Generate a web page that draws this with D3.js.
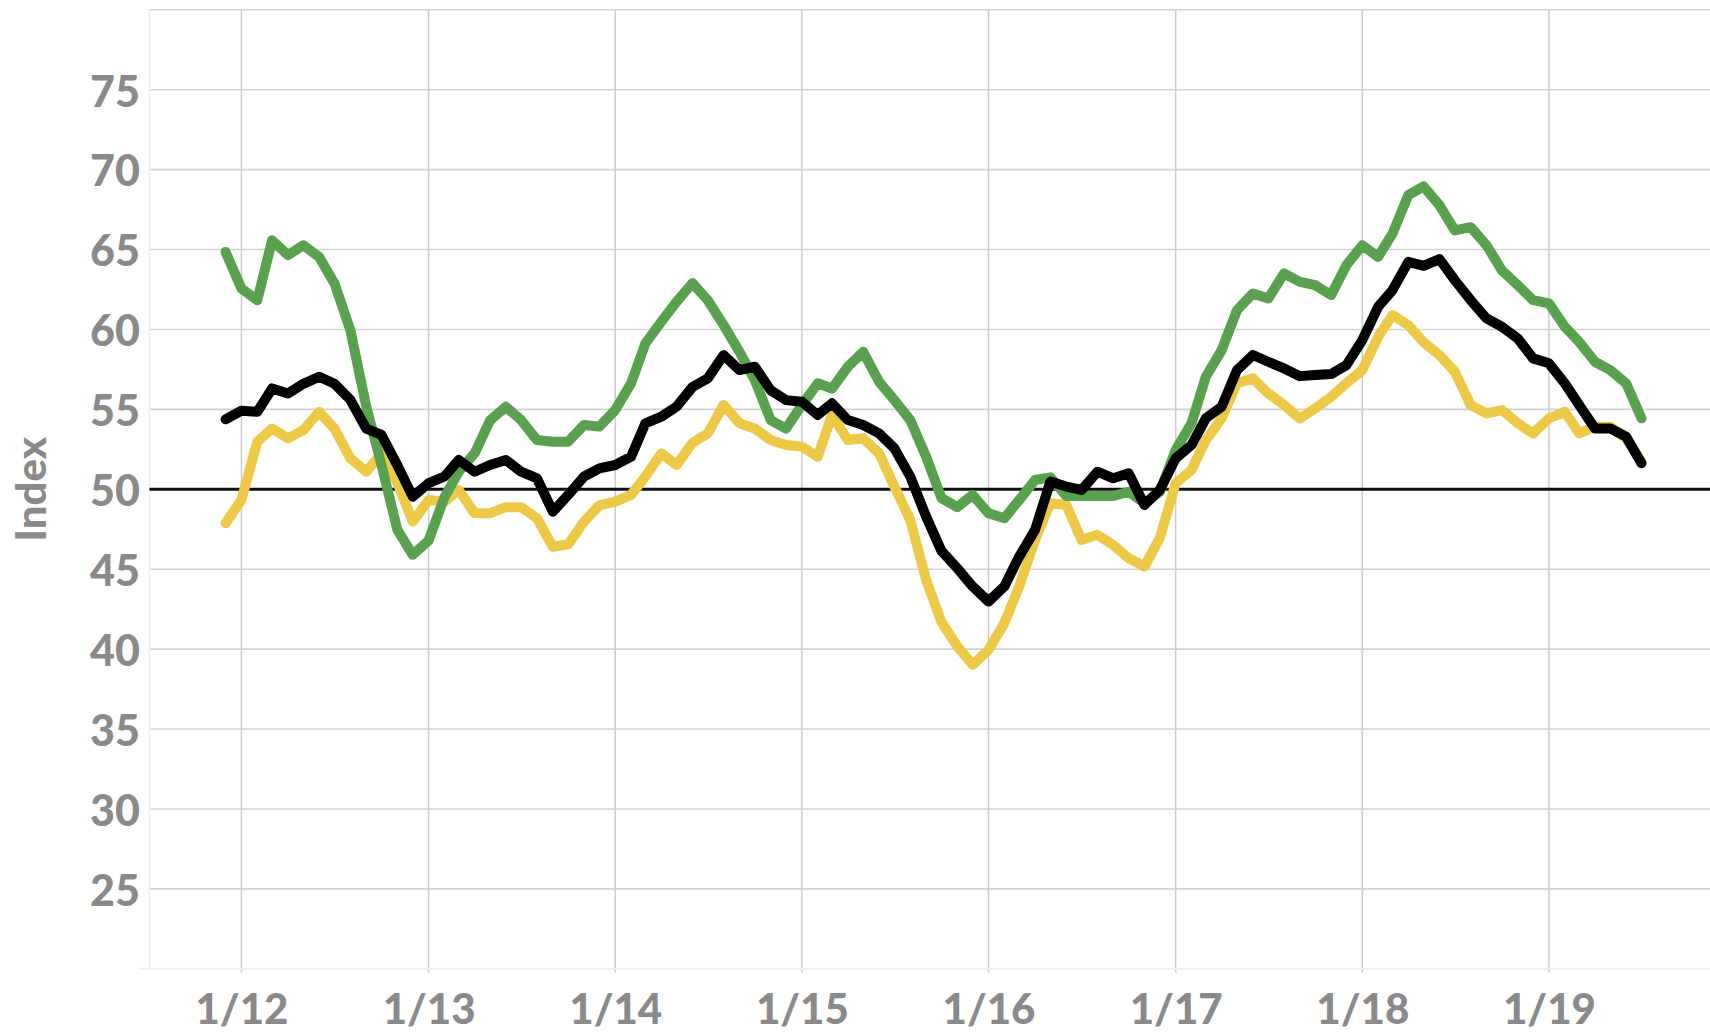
<!DOCTYPE html>
<html>
<head>
<meta charset="utf-8">
<script src="https://cdn.jsdelivr.net/npm/d3@7"></script>
<style>
  body { margin: 0; background: #fff; }
  svg { display: block; }
  text { font-family: Lato, "Open Sans", sans-serif; font-weight: 900; fill: #8a8a8a; }
</style>
</head>
<body>
<svg id="chart"></svg>
<script>
// monthly readings, Dec 2011 .. Jul 2019
const firstMonth = Date.UTC(2011, 11, 1);
const lastMonth = Date.UTC(2019, 6, 1);

const greenValues = [
  64.85,
  62.56, 61.83, 65.58, 64.65, 65.27, 64.54, 62.88, 59.96, 55.2, 51.5, 47.46, 45.9,
  46.8, 49.5, 51.1, 52.25, 54.3, 55.17, 54.33, 53.08, 52.98, 52.98, 54.02, 53.92,
  54.96, 56.63, 59.13, 60.48, 61.73, 62.9, 61.83, 60.27, 58.6, 56.83, 54.33, 53.8,
  55.27, 56.63, 56.31, 57.67, 58.6, 56.73, 55.58, 54.33, 52.04, 49.45, 48.88, 49.65,
  48.5, 48.19, 49.33, 50.58, 50.75, 49.58, 49.58, 49.58, 49.58, 49.85, 49.13, 49.85,
  52.46, 54.13, 57.04, 58.71, 61.21, 62.25, 61.94, 63.5, 62.98, 62.77, 62.15, 64.02,
  65.27, 64.54, 66.0, 68.4, 68.95, 67.77, 66.2, 66.4, 65.27, 63.7, 62.77, 61.83,
  61.63, 60.17, 59.23, 57.98, 57.46, 56.63, 54.44
];

const yellowValues = [
  47.88,
  49.33, 52.98, 53.8, 53.19, 53.7, 54.85, 53.8, 51.94, 51.1, 52.25, 50.4, 47.98,
  49.33, 49.23, 49.96, 48.5, 48.5, 48.88, 48.88, 48.19, 46.4, 46.56, 47.98, 49.0,
  49.23, 49.65, 50.8, 52.25, 51.52, 52.9, 53.5, 55.27, 54.13, 53.8, 53.08, 52.77,
  52.67, 52.04, 54.65, 53.08, 53.19, 52.25, 50.17, 48.08, 44.33, 41.7, 40.17, 39.02,
  39.96, 41.63, 43.92, 46.83, 49.13, 49.02, 46.83, 47.15, 46.52, 45.69, 45.17, 46.94,
  50.38, 51.21, 53.08, 54.44, 56.63, 56.94, 56.0, 55.27, 54.44, 55.06, 55.79, 56.63,
  57.46, 59.54, 60.9, 60.27, 59.2, 58.4, 57.35, 55.27, 54.75, 54.96, 54.13, 53.5,
  54.44, 54.85, 53.5, 53.92, 53.92, 53.19, 51.73
];

const blackValues = [
  54.38,
  54.92, 54.85, 56.31, 56.0, 56.6, 57.04, 56.6, 55.6, 53.8, 53.4, 51.5, 49.54,
  50.38, 50.8, 51.83, 51.1, 51.52, 51.83, 51.1, 50.69, 48.6, 49.65, 50.8, 51.31,
  51.52, 52.04, 54.13, 54.54, 55.17, 56.4, 56.94, 58.4, 57.46, 57.67, 56.2, 55.58,
  55.48, 54.65, 55.38, 54.33, 54.02, 53.5, 52.56, 50.79, 48.29, 46.15, 45.06, 43.92,
  42.98, 43.92, 45.79, 47.46, 50.48, 50.17, 49.96, 51.1, 50.69, 51.0, 49.02, 49.96,
  51.94, 52.77, 54.44, 55.17, 57.46, 58.4, 57.98, 57.56, 57.08, 57.15, 57.21, 57.77,
  59.33, 61.42, 62.46, 64.23, 63.98, 64.4, 63.08, 61.83, 60.69, 60.17, 59.44, 58.19,
  57.88, 56.63, 55.27, 53.81, 53.81, 53.29, 51.63
];

const yearTicks = [2012, 2013, 2014, 2015, 2016, 2017, 2018, 2019];
const yTicks = [25, 30, 35, 40, 45, 50, 55, 60, 65, 70, 75];
const yGrid = [25, 30, 35, 40, 45, 50, 55, 60, 65, 70, 75, 80];
const baseline = 50;

const width = 1710;
const height = 1034;
const plot = { left: 149.4, right: 1710, top: 9.8, bottom: 968.8 };

const svg = d3.select('#chart')
  .attr('width', width)
  .attr('height', height);

const x = d3.scaleUtc()
  .domain([Date.UTC(2011, 6, 5), Date.UTC(2019, 10, 12)])
  .range([plot.left, plot.right]);

const y = d3.scaleLinear()
  .domain([20, 80])
  .range([plot.bottom, plot.top]);

const months = d3.utcMonth.range(firstMonth, lastMonth + 1);

// grid
svg.append('g')
  .selectAll('line')
  .data(yGrid)
  .join('line')
  .attr('x1', plot.left)
  .attr('x2', plot.right)
  .attr('y1', d => y(d))
  .attr('y2', d => y(d))
  .attr('stroke', '#d3d3d3')
  .attr('stroke-width', 1.6);

const yearDates = yearTicks.map(yr => new Date(Date.UTC(yr, 0, 1)));

svg.append('g')
  .selectAll('line')
  .data(yearDates)
  .join('line')
  .attr('x1', d => x(d))
  .attr('x2', d => x(d))
  .attr('y1', plot.top)
  .attr('y2', plot.bottom + 4)
  .attr('stroke', '#cccccc')
  .attr('stroke-width', 1.5);

// faint frame on the left and bottom
svg.append('line')
  .attr('x1', plot.left).attr('x2', plot.left)
  .attr('y1', plot.top).attr('y2', plot.bottom)
  .attr('stroke', '#ededed').attr('stroke-width', 1.5);
svg.append('line')
  .attr('x1', plot.left - 10).attr('x2', plot.right)
  .attr('y1', plot.bottom).attr('y2', plot.bottom)
  .attr('stroke', '#eeeeee').attr('stroke-width', 2);

// axes labels
const xAxis = d3.axisBottom(x)
  .tickValues(yearDates)
  .tickSize(0)
  .tickFormat(d3.utcFormat('%-m/%y'));

svg.append('g')
  .attr('transform', `translate(0,${plot.bottom})`)
  .call(xAxis)
  .call(g => g.select('.domain').remove())
  .selectAll('text')
  .attr('y', 55)
  .attr('dy', 0)
  .style('font-size', '42px')
  .style('fill', '#8a8a8a')
  .style('font-family', 'Lato, sans-serif')
  .style('font-weight', 900);

const yAxis = d3.axisLeft(y)
  .tickValues(yTicks)
  .tickSize(0)
  .tickFormat(d3.format('d'));

svg.append('g')
  .attr('transform', 'translate(140,0)')
  .call(yAxis)
  .call(g => g.select('.domain').remove())
  .selectAll('text')
  .attr('x', 0)
  .attr('dy', '0.38em')
  .style('font-size', '43px')
  .style('fill', '#8a8a8a')
  .style('font-family', 'Lato, sans-serif')
  .style('font-weight', 900);

svg.append('text')
  .attr('transform', `translate(46,${y(50)}) rotate(-90)`)
  .attr('text-anchor', 'middle')
  .style('font-size', '42px')
  .text('Index');

// 50 reference line
svg.append('line')
  .attr('x1', plot.left)
  .attr('x2', plot.right)
  .attr('y1', y(baseline))
  .attr('y2', y(baseline))
  .attr('stroke', '#111')
  .attr('stroke-width', 3);

// series
const series = [
  { name: 'yellow', values: yellowValues, color: '#edc948' },
  { name: 'green', values: greenValues, color: '#59a14f' },
  { name: 'black', values: blackValues, color: '#000000' }
];

const line = d3.line()
  .x((d, i) => x(months[i]))
  .y(d => y(d));

svg.append('g')
  .selectAll('path')
  .data(series)
  .join('path')
  .attr('d', s => line(s.values))
  .attr('fill', 'none')
  .attr('stroke', s => s.color)
  .attr('stroke-width', 10)
  .attr('stroke-linejoin', 'round')
  .attr('stroke-linecap', 'round');
</script>
</body>
</html>
